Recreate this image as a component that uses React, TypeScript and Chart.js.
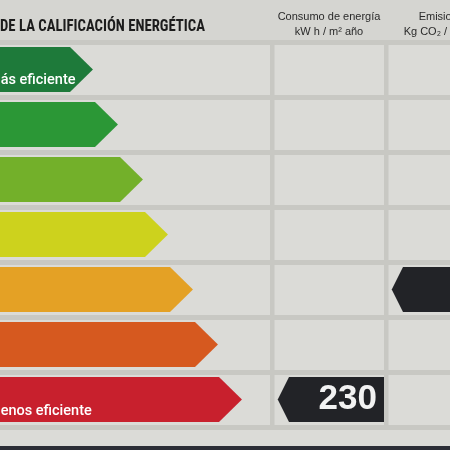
import React, { useEffect, useRef } from 'react';
import { Chart, registerables } from 'chart.js';

Chart.register(...registerables);

// ---- data ----
const ratings = ['A', 'B', 'C', 'D', 'E', 'F', 'G'];
const ratingBarValues = [70, 95, 120, 145, 170, 195, 219];
const ratingColors = ['#1e7a3a', '#2b9736', '#73b02a', '#cdd21d', '#e4a125', '#d6591f', '#c8202d'];
const consumptionColumn = [272, 386];
const emissionColumn = [386, 502];
const consumptionValue = 230;
const consumptionRating = 'G';
const emissionRating = 'E';
const headerTitle = 'ESCALA DE LA CALIFICACIÓN ENERGÉTICA';
const headerVisible = 'DE LA CALIFICACIÓN ENERGÉTICA';
const topLabel = 'Más eficiente';
const bottomLabel = 'Menos eficiente';
const consumptionTitle = ['Consumo de energía', 'kW h / m² año'];
const emissionTitle = ['Emisiones', 'Kg CO₂ / m² año'];

const consumptionIndicator = ratings.map((r) =>
  r === consumptionRating ? [consumptionColumn[0] + 17, consumptionColumn[1] - 2] : null
);
const emissionIndicator = ratings.map((r) =>
  r === emissionRating ? [emissionColumn[0] + 17, emissionColumn[1]] : null
);

const GRID = '#c8c8c3';
const BG = '#dbdbd7';

const labelPlugin = {
  id: 'energyLabel',
  beforeDraw(chart: any) {
    const { ctx, width, height } = chart;
    ctx.save();
    ctx.fillStyle = BG;
    ctx.fillRect(0, 0, width, height);
    ctx.fillStyle = '#d5d5d1';
    ctx.fillRect(0, 0, width, 40);
    ctx.fillStyle = '#2b2d36';
    ctx.fillRect(0, height - 4, width, 4);
    ctx.restore();
  },
  afterDatasetsDraw(chart: any) {
    const { ctx } = chart;
    const xs = chart.scales.x;
    ctx.save();
    // rating arrow tips
    const meta0 = chart.getDatasetMeta(0);
    meta0.data.forEach((el: any, i: number) => {
      const p = el.getProps(['x', 'y', 'height'], true);
      const h = p.height;
      const tip = h * 0.51;
      ctx.fillStyle = ratingColors[i];
      ctx.beginPath();
      ctx.moveTo(p.x - 1, p.y - h / 2);
      ctx.lineTo(p.x, p.y - h / 2);
      ctx.lineTo(p.x + tip, p.y);
      ctx.lineTo(p.x, p.y + h / 2);
      ctx.lineTo(p.x - 1, p.y + h / 2);
      ctx.closePath();
      ctx.fill();
    });
    // indicator tips (pointing left)
    [1, 2].forEach((di) => {
      const meta = chart.getDatasetMeta(di);
      meta.data.forEach((el: any, i: number) => {
        const raw = chart.data.datasets[di].data[i];
        if (!raw) return;
        const p = el.getProps(['x', 'y', 'height', 'base'], true);
        const left = Math.min(p.x, p.base);
        const right = Math.max(p.x, p.base);
        const h = p.height;
        const tip = h * 0.25;
        ctx.fillStyle = '#222327';
        ctx.beginPath();
        ctx.moveTo(left + 1, p.y - h / 2);
        ctx.lineTo(left, p.y - h / 2);
        ctx.lineTo(left - tip, p.y);
        ctx.lineTo(left, p.y + h / 2);
        ctx.lineTo(left + 1, p.y + h / 2);
        ctx.closePath();
        ctx.fill();
        if (di === 1) {
          ctx.fillStyle = '#f2f2f2';
          ctx.font = 'bold 35px "Liberation Sans", Arial, sans-serif';
          ctx.textAlign = 'right';
          ctx.textBaseline = 'alphabetic';
          ctx.fillText(String(consumptionValue), right - 7, p.y + 9);
        }
      });
    });
    // labels inside first and last bars
    ctx.fillStyle = '#ffffff';
    ctx.font = '500 14.5px Roboto, "Liberation Sans", sans-serif';
    ctx.textAlign = 'left';
    ctx.textBaseline = 'alphabetic';
    const first = meta0.data[0];
    const last = meta0.data[meta0.data.length - 1];
    ctx.fillText(topLabel, -12, first.y + 14.5);
    ctx.fillText(bottomLabel, -12, last.y + 15);

    // header title (condensed bold)
    ctx.fillStyle = '#1c1c1c';
    ctx.font = 'bold 17px "Liberation Sans Narrow", "Roboto Condensed", Roboto, sans-serif';
    const w = ctx.measureText(headerVisible).width;
    const sx = 205 / w;
    ctx.save();
    ctx.translate(205, 31);
    ctx.scale(sx, 1);
    ctx.textAlign = 'right';
    ctx.fillText(headerTitle, 0, 0);
    ctx.restore();

    // column titles
    ctx.fillStyle = '#2a2a2a';
    ctx.font = '11px "Liberation Sans", Arial, sans-serif';
    ctx.textAlign = 'center';
    const c1 = xs.getPixelForValue((consumptionColumn[0] + consumptionColumn[1]) / 2);
    const c2 = xs.getPixelForValue((emissionColumn[0] + emissionColumn[1]) / 2);
    ctx.fillText(consumptionTitle[0], c1, 20);
    ctx.fillText(consumptionTitle[1], c1, 35);
    ctx.fillText(emissionTitle[0], c2, 20);
    ctx.fillText(emissionTitle[1], c2, 35);
    ctx.restore();
  },
};

export default function App() {
  const ref = useRef<HTMLCanvasElement | null>(null);
  useEffect(() => {
    if (!ref.current) return;
    const barPct = 45 / 55;
    const chart = new Chart(ref.current, {
      type: 'bar',
      data: {
        labels: ratings,
        datasets: [
          {
            data: ratingBarValues,
            backgroundColor: ratingColors,
            borderWidth: 0,
            barPercentage: barPct,
            categoryPercentage: 1,
            grouped: false,
          } as any,
          {
            data: consumptionIndicator as any,
            backgroundColor: '#222327',
            borderWidth: 0,
            barPercentage: barPct,
            categoryPercentage: 1,
            grouped: false,
          } as any,
          {
            data: emissionIndicator as any,
            backgroundColor: '#222327',
            borderWidth: 0,
            barPercentage: barPct,
            categoryPercentage: 1,
            grouped: false,
          } as any,
        ],
      },
      options: {
        indexAxis: 'y',
        responsive: false,
        animation: false,
        layout: { padding: { top: 42, bottom: 23, left: 0, right: 0 } },
        plugins: { legend: { display: false }, tooltip: { enabled: false } },
        scales: {
          x: {
            type: 'linear',
            min: 0,
            max: 450,
            ticks: { display: false },
            border: { display: false },
            grid: { color: GRID, lineWidth: 4.5, drawTicks: false },
            afterBuildTicks: (scale: any) => {
              scale.ticks = [{ value: consumptionColumn[0] }, { value: emissionColumn[0] }];
            },
          },
          y: {
            ticks: { display: false },
            border: { display: false },
            grid: { color: GRID, lineWidth: 5, drawTicks: false, offset: true },
          },
        },
      } as any,
      plugins: [labelPlugin],
    });
    return () => chart.destroy();
  }, []);
  return (
    <div style={{ position: 'fixed', left: 0, top: 0, width: 450, height: 450 }}>
      <canvas ref={ref} width={450} height={450} style={{ width: 450, height: 450, display: 'block' }} />
    </div>
  );
}
